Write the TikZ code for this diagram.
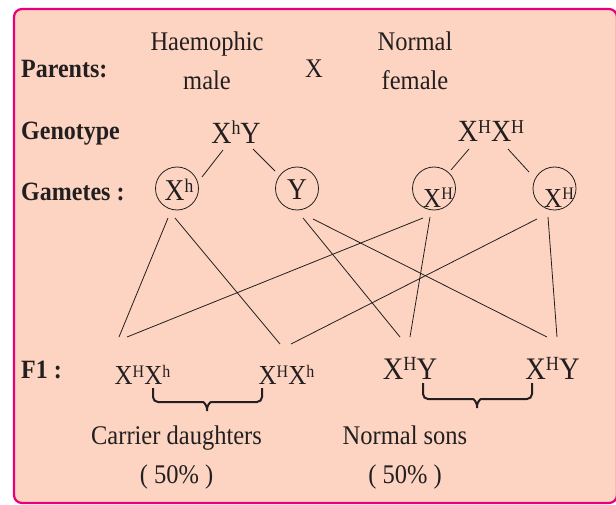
\documentclass[tikz,border=0pt]{standalone}
\usepackage{fontspec}
\setmainfont{Liberation Serif}
\usepackage{tikz}

\definecolor{boxpink}{RGB}{230,0,126}
\definecolor{boxfill}{RGB}{252,212,193}
\definecolor{ink}{RGB}{35,31,32}

% raised small letter for the alleles
\newcommand{\hi}[1]{\raisebox{.28em}{\scalebox{.64}{#1}}}

\begin{document}
\begin{tikzpicture}[x=1pt,y=-1pt,
  every node/.style={text=ink, inner sep=0pt},
  txt/.style={yscale=1.1, transform shape},
  lbl/.style={txt, anchor=west, font=\fontsize{24}{29}\selectfont\bfseries},
  hdr/.style={txt, align=center, font=\fontsize{24.5}{35}\selectfont},
  gen/.style={txt, font=\fontsize{28}{33}\selectfont},
  gam/.style={draw=ink, circle, minimum size=43pt, line width=0.8pt},
  gtx/.style={txt, font=\fontsize{27.5}{32}\selectfont},
  gtxs/.style={txt, font=\fontsize{25}{30}\selectfont},
  dau/.style={txt, font=\fontsize{25}{30}\selectfont},
  son/.style={txt, font=\fontsize{28.5}{34}\selectfont},
  link/.style={draw=ink, line width=0.8pt},
  brc/.style={draw=ink, line width=2pt, rounded corners=5pt}]
\useasboundingbox (0,0) rectangle (616,505);
\fill[white] (0,0) rectangle (616,505);
\draw[draw=boxpink, fill=boxfill, line width=2.2pt, rounded corners=8pt] (14,9) rectangle (617,503);

% row labels
\node[lbl] (parents) at (21,69) {Parents:};
\node[lbl] (genotype) at (21,134) {Genotype};
\node[lbl] (gametes) at (21,192) {Gametes :};
\node[lbl] (fone) at (21,370) {F1 :};

% parents
\node[hdr] (male) at (207,61) {Haemophic\\male};
\node[hdr] (cross) at (314,69) {X};
\node[hdr] (female) at (415,61) {Normal\\female};

% genotypes
\node[gen] (gtM) at (236,132) {X\hi{h}Y};
\node[gen] (gtF) at (491,131) {X\hi{H}X\hi{H}};

% gametes
\node[gam] (gXh) at (177,188.5) {};
\node[gam] (gY) at (297,188.5) {};
\node[gam] (gXH1) at (434,188.5) {};
\node[gam] (gXH2) at (554.5,188.5) {};
\node[gtx] (gXht) at (179,190) {X\hi{h}};
\node[gtx] (gYt) at (297,190) {Y};
\node[gtxs] (gXH1t) at (438,197.5) {X\hi{H}};
\node[gtxs] (gXH2t) at (559,197.5) {X\hi{H}};

% offspring
\node[dau] (d1) at (142.5,375) {X\hi{H}X\hi{h}};
\node[dau] (d2) at (286.5,375) {X\hi{H}X\hi{h}};
\node[son] (s1) at (410,368.5) {X\hi{H}Y};
\node[son] (s2) at (552.5,368.5) {X\hi{H}Y};

% genotype to gametes
\draw[link] ([shift={(-13,18)}]gtM.center) -- ([shift={(25,-11.5)}]gXh.center);
\draw[link] ([shift={(17,17)}]gtM.center) -- ([shift={(-22,-17.5)}]gY.center);
\draw[link] ([shift={(-22,18)}]gtF.center) -- ([shift={(17,-18.5)}]gXH1.center);
\draw[link] ([shift={(17,18)}]gtF.center) -- ([shift={(-25.5,-16.5)}]gXH2.center);

% gametes to F1
\draw[link] ([shift={(-9,29.5)}]gXh.center) -- ([shift={(-23.5,-38)}]d1.center);
\draw[link] ([shift={(-2,29.5)}]gXh.center) -- ([shift={(-6.5,-31)}]d2.center);
\draw[link] ([shift={(-11,29.5)}]gXH1.center) -- ([shift={(-15.5,-38)}]d1.center);
\draw[link] ([shift={(-17.5,30.5)}]gXH2.center) -- ([shift={(4.5,-31)}]d2.center);
\draw[link] ([shift={(6,29.5)}]gY.center) -- ([shift={(-10,-31.5)}]s1.center);
\draw[link] ([shift={(16,30.5)}]gY.center) -- ([shift={(-5.5,-31.5)}]s2.center);
\draw[link] ([shift={(-4,28.5)}]gXH1.center) -- ([shift={(0,-31.5)}]s1.center);
\draw[link] ([shift={(-6.5,28.5)}]gXH2.center) -- ([shift={(4.5,-31.5)}]s2.center);

% braces
\draw[brc] (153,388) -- (153,402) -- (198,402) .. controls (204,402) and (207,406) .. (207,414)
  .. controls (207,406) and (210,402) .. (216,402) -- (262,402) -- (262,388);
\draw[brc] (423,383) -- (423,399) -- (468,399) .. controls (474,399) and (477,403) .. (477,411)
  .. controls (477,403) and (480,399) .. (486,399) -- (532,399) -- (532,383);

\node[hdr] (cd) at (176.5,457.5) {Carrier daughters\\( 50\% )};
\node[hdr] (ns) at (405,457.5) {Normal sons\\( 50\% )};
\end{tikzpicture}
\end{document}
